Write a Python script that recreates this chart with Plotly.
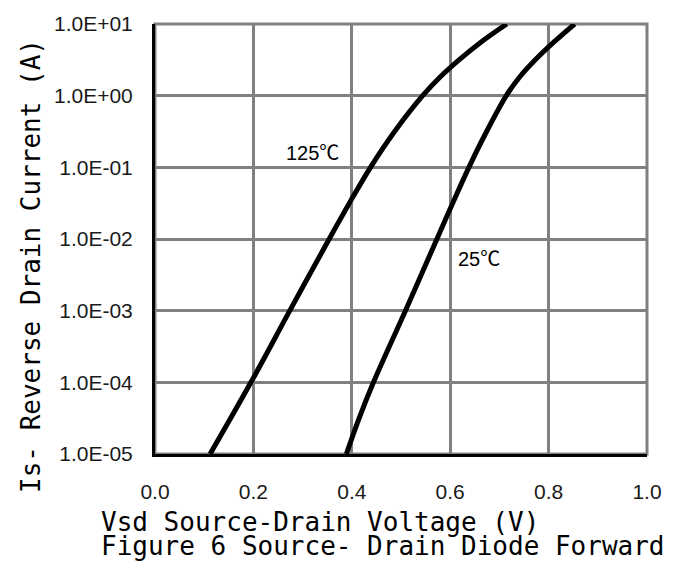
import plotly.graph_objects as go

# Forward voltage (V) vs. reverse drain current (A) at two junction temperatures
vsd_125 = [0.112, 0.195, 0.274, 0.354, 0.395, 0.438, 0.487, 0.544, 0.578, 0.618, 0.663, 0.715]
is_125 = [1e-5, 1e-4, 1e-3, 1e-2, 3.16e-2, 1e-1, 0.316, 1.0, 1.78, 3.16, 5.62, 10.0]

vsd_25 = [0.389, 0.415, 0.444, 0.509, 0.573, 0.605, 0.638, 0.674, 0.714, 0.740, 0.773, 0.811, 0.853]
is_25 = [1e-5, 3.16e-5, 1e-4, 1e-3, 1e-2, 3.16e-2, 0.1, 0.316, 1.0, 1.78, 3.16, 5.62, 10.0]

x_ticks = [0.0, 0.2, 0.4, 0.6, 0.8, 1.0]
x_tick_text = ["0.0", "0.2", "0.4", "0.6", "0.8", "1.0"]
y_ticks = [1e-5, 1e-4, 1e-3, 1e-2, 1e-1, 1e0, 1e1]
y_tick_text = ["1.0E-05", "1.0E-04", "1.0E-03", "1.0E-02", "1.0E-01", "1.0E+00", "1.0E+01"]

GRID = "#808080"
TICK_FONT = dict(family="Liberation Sans, Arial, sans-serif", size=21, color="#1a1a1a")
TITLE_FONT = dict(family="DejaVu Sans Mono, monospace", size=26, color="#000000")
LABEL_FONT = dict(family="Liberation Sans, Noto Sans CJK SC, sans-serif", size=20, color="#000000")

fig = go.Figure()
for xs, ys in ((vsd_125, is_125), (vsd_25, is_25)):
    fig.add_trace(go.Scatter(
        x=xs, y=ys, mode="lines",
        line=dict(color="#000000", width=5, shape="spline", smoothing=1.0),
        showlegend=False, hoverinfo="skip",
    ))

fig.update_layout(
    width=683, height=580,
    margin=dict(l=155, r=36, t=18, b=126),
    paper_bgcolor="white", plot_bgcolor="white",
    xaxis=dict(
        range=[0, 1], tickvals=x_ticks, ticktext=x_tick_text,
        showgrid=True, gridcolor=GRID, gridwidth=3, zeroline=False,
        showline=True, linecolor="#000000", linewidth=3,
        ticks="", ticklabelstandoff=17, tickfont=TICK_FONT,
    ),
    yaxis=dict(
        type="log", range=[-5, 1], tickvals=y_ticks, ticktext=y_tick_text,
        showgrid=True, gridcolor=GRID, gridwidth=3, zeroline=False,
        showline=True, linecolor="#000000", linewidth=3,
        ticks="", ticklabelstandoff=15, tickfont=TICK_FONT,
    ),
    shapes=[dict(type="rect", xref="paper", yref="paper", x0=0, x1=1, y0=0, y1=1,
                 line=dict(color=GRID, width=3), layer="below")],
)

# Curve labels
fig.add_annotation(x=0.321, y=-0.80, xref="x", yref="y", text="125℃",
                   showarrow=False, font=LABEL_FONT)
fig.add_annotation(x=0.658, y=-2.28, xref="x", yref="y", text="25℃",
                   showarrow=False, font=LABEL_FONT)

# Axis titles and caption
fig.add_annotation(x=-0.288, y=0.438, xref="paper", yref="paper",
                   text="Is- Reverse Drain Current (A)", textangle=-90,
                   showarrow=False, font=TITLE_FONT)
fig.add_annotation(x=-0.1137, y=-0.158, xref="paper", yref="paper",
                   xanchor="left", yanchor="middle",
                   text="Vsd Source-Drain Voltage (V)",
                   showarrow=False, font=TITLE_FONT)
fig.add_annotation(x=-0.1137, y=-0.213, xref="paper", yref="paper",
                   xanchor="left", yanchor="middle",
                   text="Figure 6 Source- Drain Diode Forward",
                   showarrow=False, font=TITLE_FONT)

fig.write_html("out.html")
